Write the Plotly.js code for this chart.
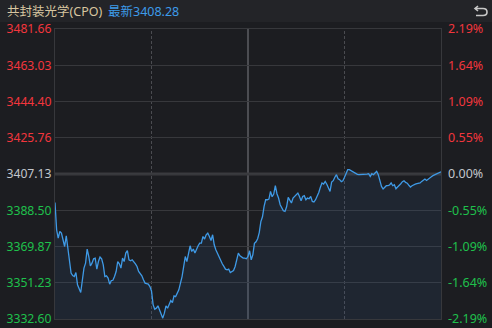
<!DOCTYPE html>
<html>
<head>
<meta charset="utf-8">
<script src="https://cdn.plot.ly/plotly-3.0.1.min.js"></script>
<style>html,body{margin:0;padding:0;background:#1c1d21;}#chart{width:492px;height:328px;}</style>
</head>
<body>
<div id="chart"></div>
<script>
const titleText = "共封装光学(CPO)";
const latestText = "最新3408.28";
const prevClose = 3407.13;

const minutes = [0,1,2,3,4,6,7,8,10,11,12,13,14,16,17,18,19,20,21,22,23,24,25,26,27,28,29,30,31,32,33,34,35,36,37,38,39,40,41,42,43,44,45,46,47,48,50,51,52,54,55,56,58,59,
60,61,62,63,64,65,66,67,68,69,70,71,72,73,74,75,76,77,78,79,80,81,82,83,84,85,86,87,88,89,90,91,92,93,94,95,96,97,98,99,100,101,102,103,104,105,106,107,108,109,110,111,112,113,114,115,116,117,118,119,
120,121,122,123,124,125,126,127,128,129,130,131,132,133,134,135,136,137,138,139,140,141,142,143,144,145,146,147,148,149,150,151,152,153,154,155,156,157,158,159,160,161,162,163,164,165,166,167,168,169,170,171,172,173,174,175,176,177,178,179,
180,181,182,183,184,185,186,187,188,189,190,191,192,193,194,195,196,197,198,199,200,201,202,203,204,205,206,207,208,209,210,211,212,213,214,215,216,217,218,219,220,221,222,223,224,225,226,227,228,229,230,231,232,233,234,235,236,237,238,239,240];

const prices = [3392.52,3378.47,3374.20,3377.59,3376.77,3369.87,3375.38,3369.05,3356.18,3354.95,3354.43,3356.49,3350.16,3346.20,3353.61,3358.76,3361.33,3368.53,3364.73,3359.94,3361.33,3363.54,3363.90,3358.24,3362.15,3364.42,3363.54,3360.46,3354.43,3354.80,3353.61,3350.52,3352.38,3352.50,3354.43,3357.01,3362.15,3360.97,3358.76,3363.90,3362.15,3366.48,3367.81,3363.03,3362.51,3363.03,3360.97,3359.58,3357.01,3354.80,3352.74,3351.04,3350.52,3349.29,
3347.00,3340.00,3337.66,3338.17,3339.36,3336.94,3335.24,3333.03,3335.60,3339.36,3338.17,3339.87,3342.08,3341.06,3344.50,3344.14,3345.80,3347.59,3351.04,3354.43,3359.50,3364.73,3362.15,3366.48,3370.23,3367.30,3368.53,3366.48,3368.53,3370.23,3371.62,3371.62,3375.02,3373.68,3375.89,3376.77,3375.02,3372.96,3375.89,3370.75,3368.17,3366.12,3364.73,3362.15,3360.97,3359.68,3358.24,3357.88,3358.24,3356.49,3357.00,3357.52,3359.58,3363.03,3366.48,3365.09,3364.57,3363.90,3363.90,3363.54,
3364.73,3367.66,3363.03,3365.60,3371.50,3372.30,3373.84,3377.00,3382.70,3385.16,3390.46,3393.90,3393.90,3394.26,3398.18,3395.45,3396.84,3401.11,3397.00,3394.78,3391.33,3389.27,3388.24,3387.88,3390.30,3395.09,3393.39,3392.21,3394.78,3395.60,3396.84,3397.35,3395.60,3393.39,3395.60,3395.96,3393.90,3394.78,3394.42,3395.60,3393.03,3392.72,3393.90,3395.45,3397.66,3400.34,3402.50,3401.98,3403.32,3401.88,3399.82,3398.18,3403.01,3403.68,3405.48,3406.77,3404.71,3404.20,3403.20,3403.68,
3405.48,3407.80,3409.34,3409.34,3408.83,3408.31,3407.54,3407.13,3406.92,3406.77,3406.77,3406.77,3406.77,3406.77,3407.03,3407.28,3405.89,3407.28,3406.77,3407.64,3408.47,3406.77,3403.84,3400.75,3399.41,3400.44,3401.11,3401.11,3401.47,3402.50,3401.11,3401.62,3399.57,3400.44,3401.11,3402.14,3403.17,3403.68,3402.81,3402.40,3401.37,3400.44,3401.11,3401.62,3401.88,3402.14,3402.40,3402.50,3403.32,3404.20,3404.56,3403.84,3404.56,3405.48,3405.74,3406.26,3406.62,3407.28,3407.44,3407.80,3408.28];

const priceTicks = [3332.60,3351.23,3369.87,3388.50,3407.13,3425.76,3444.40,3463.03,3481.66];
const priceLabels = ["3332.60","3351.23","3369.87","3388.50","3407.13","3425.76","3444.40","3463.03","3481.66"];
const pctLabels = ["-2.19%","-1.64%","-1.09%","-0.55%","0.00%","0.55%","1.09%","1.64%","2.19%"];

const RED = "#f2363d", GREEN = "#1fc04c", GREY = "#c2c6cc";
function colorFor(v){ return v > prevClose + 0.001 ? RED : (v < prevClose - 0.001 ? GREEN : GREY); }
const leftText = priceTicks.map((v,i)=>`<span style="color:${colorFor(v)}">${priceLabels[i]}</span>`);
const rightText = priceTicks.map((v,i)=>`<span style="color:${colorFor(v)}">${pctLabels[i]}</span>`);

const yRange = [priceTicks[0], priceTicks[priceTicks.length-1]];
const GRID = "#37383c";
const FONT = "Noto Sans, Noto Sans CJK SC, sans-serif";

const trace = {
  x: minutes, y: prices, type: "scatter", mode: "lines",
  line: {color: "#3f9ae6", width: 1.3},
  fill: "tozeroy", fillcolor: "rgba(50,90,135,0.16)",
  hoverinfo: "skip"
};
const trace2 = {x: [minutes[0]], y: [prices[0]], yaxis: "y2", mode: "markers", marker:{opacity:0}, hoverinfo:"skip", showlegend:false};

const L = 55, R = 51, T = 29, B = 9, W = 492, H = 328;
const pw = W - L - R, ph = H - T - B;
const px = v => (v - L) / pw;
const py = v => (H - B - v) / ph;

const layout = {
  width: W, height: H,
  margin: {l: L, r: R, t: T, b: B, pad: 0},
  paper_bgcolor: "#1c1d21", plot_bgcolor: "#1c1d21",
  showlegend: false,
  font: {family: FONT, size: 12, color: GREY},
  xaxis: {range: [0, 240], showgrid: false, zeroline: false, showticklabels: false, ticks: "",
          showline: true, mirror: true, linecolor: GRID, linewidth: 1, fixedrange: true},
  yaxis: {range: yRange, tickvals: priceTicks, ticktext: leftText, showgrid: true, gridcolor: GRID, gridwidth: 1,
          zeroline: false, ticks: "", showline: true, mirror: true, linecolor: GRID, linewidth: 1,
          tickfont: {family: FONT, size: 12.2}, ticklabelstandoff: 0, fixedrange: true},
  yaxis2: {range: yRange, overlaying: "y", side: "right", tickvals: priceTicks, ticktext: rightText, showgrid: false,
           zeroline: false, ticks: "", tickfont: {family: FONT, size: 12.5}, ticklabelstandoff: 6, fixedrange: true},
  shapes: [
    {type: "rect", xref: "paper", yref: "paper", x0: px(0), x1: px(W), y0: py(22), y1: py(0), fillcolor: "#232428", line: {width: 0}, layer: "below"},
    {type: "line", xref: "x", yref: "y", x0: 0, x1: 240, y0: prevClose, y1: prevClose, line: {color: "#3a3b3f", width: 3}, layer: "below"},
    {type: "line", xref: "x", yref: "paper", x0: 60, x1: 60, y0: 0, y1: 1, line: {color: "#4a4b50", width: 1, dash: "3px,2px"}, layer: "below"},
    {type: "line", xref: "x", yref: "paper", x0: 180, x1: 180, y0: 0, y1: 1, line: {color: "#4a4b50", width: 1, dash: "3px,2px"}, layer: "below"},
    {type: "line", xref: "x", yref: "paper", x0: 120, x1: 120, y0: 0, y1: 1, line: {color: "#4c4d52", width: 2}, layer: "below"},
    {type: "path", xref: "paper", yref: "paper",
     path: `M ${px(478)},${py(6)} L ${px(475)},${py(8.5)} L ${px(478)},${py(11)} M ${px(475)},${py(8.5)} L ${px(483)},${py(8.5)} Q ${px(487)},${py(8.5)} ${px(487)},${py(12)} Q ${px(487)},${py(15.5)} ${px(483)},${py(15.5)} L ${px(476)},${py(15.5)}`,
     line: {color: "#c8c8c8", width: 1.6}}
  ],
  annotations: [
    {xref: "paper", yref: "paper", x: px(5), y: py(11), xanchor: "left", yanchor: "middle", showarrow: false,
     text: titleText, font: {family: FONT, size: 12.5, color: "#d8c6a0"}},
    {xref: "paper", yref: "paper", x: px(106), y: py(11), xanchor: "left", yanchor: "middle", showarrow: false,
     text: latestText, font: {family: FONT, size: 12.5, color: "#3d9be9"}}
  ]
};

Plotly.newPlot("chart", [trace, trace2], layout, {staticPlot: true, displayModeBar: false});
</script>
</body>
</html>
